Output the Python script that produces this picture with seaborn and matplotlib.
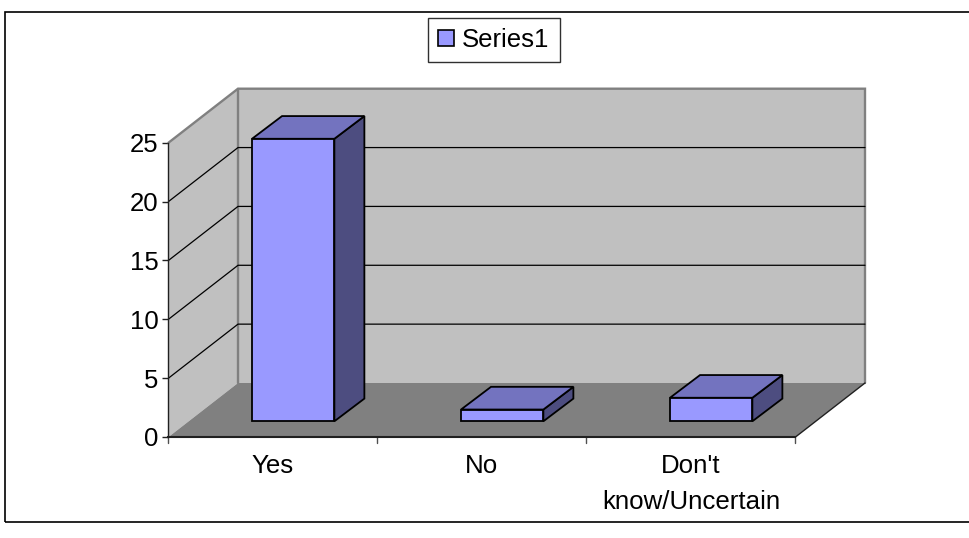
import matplotlib
matplotlib.use('Agg')
import matplotlib.pyplot as plt
import pandas as pd
import seaborn as sns
from matplotlib.patches import Polygon, Rectangle

# Chart values
categories = ['Yes', 'No', "Don't\nknow/Uncertain"]
values = [24, 1, 2]
y_ticks = [0, 5, 10, 15, 20, 25]
series_name = 'Series1'

W, H = 970, 538

sns.set_theme(style='white')
plt.rcParams['font.family'] = ['Liberation Sans', 'DejaVu Sans']

fig = plt.figure(figsize=(W / 100, H / 100), dpi=100)

# front plane of the fake 3d box, in pixels
left, right = 168.5, 795.5
bottom, top = 437.0, 142.7
ax = fig.add_axes([left / W, 1 - bottom / H, (right - left) / W, (bottom - top) / H])

px_x = (right - left) / 3
px_y = (bottom - top) / 25

# depth offsets turned into data units
wall_dx, wall_dy = 69.5 / px_x, 54.0 / px_y
bar_dx, bar_dy = 20.2 / px_x, 15.7 / px_y
cube_dx, cube_dy = 30.0 / px_x, 22.7 / px_y

df = pd.DataFrame({'answer': categories, 'count': values})
sns.barplot(data=df, x='answer', y='count', ax=ax, width=0.394, color='#9999FF', saturation=1,
            edgecolor='black', linewidth=1.3, label=series_name, zorder=5)

ax.set_xlim(-0.5, 2.5)
ax.set_ylim(0, 25)
ax.set_xlabel('')
ax.set_ylabel('')

x0, x1 = -0.5, 2.5
ymax = y_ticks[-1]

# walls and floor
ax.add_patch(Polygon([(x0, 0), (x0 + wall_dx, wall_dy), (x0 + wall_dx, ymax + wall_dy), (x0, ymax)],
                     closed=True, fc='#C0C0C0', ec='none', zorder=1, clip_on=False))
ax.add_patch(Polygon([(x0 + wall_dx, wall_dy), (x1 + wall_dx, wall_dy), (x1 + wall_dx, ymax + wall_dy),
                      (x0 + wall_dx, ymax + wall_dy)],
                     closed=True, fc='#C0C0C0', ec='none', zorder=1, clip_on=False))
ax.add_patch(Polygon([(x0, 0), (x1, 0), (x1 + wall_dx, wall_dy), (x0 + wall_dx, wall_dy)],
                     closed=True, fc='#808080', ec='none', zorder=2, clip_on=False))

# wall outlines
ax.plot([x0, x0 + wall_dx, x1 + wall_dx, x1 + wall_dx], [ymax, ymax + wall_dy, ymax + wall_dy, wall_dy],
        color='#808080', lw=1.7, zorder=3, clip_on=False, solid_joinstyle='miter')
ax.plot([x0 + wall_dx, x0 + wall_dx], [wall_dy, ymax + wall_dy], color='#808080', lw=1.7, zorder=3, clip_on=False)
ax.plot([x1, x1 + wall_dx], [0, wall_dy], color='#202020', lw=1.0, zorder=3, clip_on=False)

# gridlines go along the side wall then across the back
for v in y_ticks[1:-1]:
    ax.plot([x0, x0 + wall_dx, x1 + wall_dx], [v, v + wall_dy, v + wall_dy],
            color='black', lw=0.9, zorder=3, clip_on=False)

# move bars to the middle of the floor and add the side and top faces
for patch in ax.patches:
    if not isinstance(patch, Rectangle):
        continue
    patch.set_x(patch.get_x() + bar_dx)
    patch.set_y(patch.get_y() + bar_dy)
    bx0, bx1 = patch.get_x(), patch.get_x() + patch.get_width()
    by0, by1 = patch.get_y(), patch.get_y() + patch.get_height()
    side = Polygon([(bx1, by0), (bx1 + cube_dx, by0 + cube_dy), (bx1 + cube_dx, by1 + cube_dy), (bx1, by1)],
                   closed=True, fc='#4D4D80', ec='black', lw=1.3, zorder=4, clip_on=False, joinstyle='miter')
    roof = Polygon([(bx0, by1), (bx1, by1), (bx1 + cube_dx, by1 + cube_dy), (bx0 + cube_dx, by1 + cube_dy)],
                   closed=True, fc='#7373BF', ec='black', lw=1.3, zorder=4, clip_on=False, joinstyle='miter')
    ax.add_patch(side)
    ax.add_patch(roof)
    patch.set_clip_on(False)

# axes
sns.despine(ax=ax, top=True, right=True)
ax.spines['left'].set(color='#202020', linewidth=1.0, zorder=6)
ax.spines['bottom'].set(color='#202020', linewidth=1.5, zorder=6)
ax.set_yticks(y_ticks)
ax.set_xticks([0, 1, 2])
ax.set_xticklabels(categories, linespacing=1.65)
ax.tick_params(axis='y', length=4.3, width=1, color='#202020', labelsize=18.5, pad=3, left=True, labelcolor='black')
ax.tick_params(axis='x', length=0, labelsize=18.6, pad=12, labelcolor='black')
for pos in [x0, x0 + 1, x0 + 2, x1]:
    ax.plot([pos, pos], [0, -6 / px_y], color='#505050', lw=1.0, zorder=6, clip_on=False)

# legend sits on the figure, above the plot
leg = ax.legend(loc='center', bbox_to_anchor=(494 / W, 1 - 40 / H), bbox_transform=fig.transFigure,
                fontsize=18.5, frameon=True, fancybox=False, framealpha=1, edgecolor='#303030',
                labelcolor='black', handlelength=0.62, handleheight=0.62, handletextpad=0.3,
                borderpad=0.4, borderaxespad=0)
leg.get_frame().set_linewidth(1.0)
leg.set_zorder(10)
for handle in leg.get_patches():
    handle.set_edgecolor('black')
    handle.set_linewidth(1.2)

# outer chart frame
fig.add_artist(Rectangle((5.5 / W, 1 - 521.5 / H), (W + 20) / W, 509.5 / H, transform=fig.transFigure,
                         fc='none', ec='black', lw=1.2))

fig.savefig('out.png', dpi=100)
